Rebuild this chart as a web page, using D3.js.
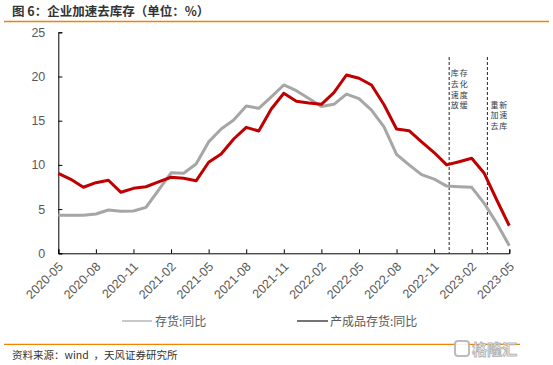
<!DOCTYPE html>
<html><head><meta charset="utf-8">
<script src="https://cdn.jsdelivr.net/npm/d3@7"></script>
<style>
html,body{margin:0;padding:0;background:#fff;}
svg{display:block;}
</style></head>
<body>
<svg id="c" width="553" height="365"></svg>
<script>
const months = ["2020-05","2020-06","2020-07","2020-08","2020-09","2020-10","2020-11","2020-12",
"2021-01","2021-02","2021-03","2021-04","2021-05","2021-06","2021-07","2021-08","2021-09","2021-10","2021-11","2021-12",
"2022-01","2022-02","2022-03","2022-04","2022-05","2022-06","2022-07","2022-08","2022-09","2022-10","2022-11","2022-12",
"2023-01","2023-02","2023-03","2023-04","2023-05"];
const inventory = [4.3,4.3,4.3,4.45,4.9,4.75,4.78,5.2,7.16,9.1,9.05,10.1,12.6,14.06,15.08,16.66,16.4,17.7,19.04,18.4,
17.5,16.6,16.85,18.0,17.5,16.2,14.3,11.2,10.0,8.9,8.4,7.6,7.53,7.46,5.65,3.4,0.86];
const finished = [9.05,8.37,7.47,7.99,8.26,6.9,7.35,7.53,8.07,8.6,8.48,8.2,10.3,11.23,12.93,14.25,13.83,16.32,18.1,17.2,
17.0,16.85,18.17,20.17,19.8,19.04,16.8,14.06,13.87,12.6,11.4,10.0,10.36,10.75,9.05,6.03,3.12];
const xTickLabels = ["2020-05","2020-08","2020-11","2021-02","2021-05","2021-08","2021-11","2022-02","2022-05","2022-08","2022-11","2023-02","2023-05"];
const yTicks = [0,5,10,15,20,25];
const seriesNames = ["存货:同比","产成品存货:同比"];
const annotations = [
  {pos: 31.2, lines: ["库存","去化","速度","放缓"], top: 0},
  {pos: 34.25, lines: ["重新","加速","去库"], top: 1}
];
const title = "图 6：企业加速去库存（单位：%）";
const source = "资料来源：wind  ，天风证券研究所";

const svg = d3.select("#c");
const x = d3.scaleLinear().domain([0, months.length-1]).range([58.3, 509.3]);
const y = d3.scaleLinear().domain([0, 25]).range([253.3, 32.3]);
const idx = m => months.indexOf(m);

// title
svg.append("text").attr("x",12).attr("y",15.5)
  .attr("font-family","'Noto Sans CJK SC', sans-serif").attr("font-weight","bold")
  .attr("font-size",12.5).attr("fill","#333").text(title);
svg.append("line").attr("x1",4).attr("x2",549).attr("y1",21.5).attr("y2",21.5)
  .attr("stroke","#F08300").attr("stroke-width",1.3);

// axes
const yAxis = d3.axisLeft(y).tickValues(yTicks).tickSize(-4).tickPadding(13).tickFormat(d3.format("d"));
const gy = svg.append("g").attr("transform",`translate(${x(0)},0)`).call(yAxis);
gy.select(".domain").attr("stroke","#000");
gy.selectAll(".tick line").attr("stroke","#000");
gy.selectAll("text").attr("font-family","'Liberation Sans', Arial, sans-serif").attr("font-size",12.5).attr("fill","#595959");

const xAxis = d3.axisBottom(x).tickValues(xTickLabels.map(idx)).tickSize(-4).tickFormat(i => months[i]);
const gx = svg.append("g").attr("transform",`translate(0,${y(0)})`).call(xAxis);
gx.select(".domain").attr("stroke","#000");
gx.selectAll(".tick line").attr("stroke","#000");
gx.selectAll("text").attr("font-family","'Liberation Sans', Arial, sans-serif").attr("font-size",12.5).attr("fill","#595959")
  .attr("text-anchor","end").attr("dy",0).attr("y",0)
  .attr("transform","translate(5,14) rotate(-45)");

// annotation dashed lines
annotations.forEach(a => {
  svg.append("line").attr("x1",x(a.pos)).attr("x2",x(a.pos)).attr("y1",57).attr("y2",y(0))
    .attr("stroke","#222").attr("stroke-width",1).attr("stroke-dasharray","3,2");
  const t = svg.append("text").attr("font-family","'Noto Sans CJK SC', sans-serif").attr("font-size",8)
    .attr("fill","#3a3a3a").attr("letter-spacing",1);
  a.lines.forEach((l,i) => {
    t.append("tspan").attr("x", x(a.pos)+ (a.top ? 3 : 1.5)).attr("y", (a.top ? 107.5 : 76) + i*10.8).text(l);
  });
});

// lines
const line = d3.line().x((d,i)=>x(i)).y(d=>y(d));
svg.append("path").datum(inventory).attr("d",line).attr("fill","none").attr("stroke","#A6A6A6").attr("stroke-width",3).attr("stroke-linejoin","round");
svg.append("path").datum(finished).attr("d",line).attr("fill","none").attr("stroke","#C00000").attr("stroke-width",3).attr("stroke-linejoin","round");

// legend
const legend = [{name: seriesNames[0], color:"#A6A6A6", x1:122, x2:152, tx:155},
                {name: seriesNames[1], color:"#1a1a1a", x1:297, x2:328, tx:330}];
legend.forEach(l => {
  svg.append("line").attr("x1",l.x1).attr("x2",l.x2).attr("y1",321).attr("y2",321).attr("stroke",l.color).attr("stroke-width",1.2);
  svg.append("text").attr("x",l.tx).attr("y",325.5).attr("font-family","'Noto Sans CJK SC', sans-serif")
    .attr("font-size",12).attr("fill","#595959").text(l.name);
});

// footer
svg.append("line").attr("x1",4).attr("x2",520).attr("y1",344.3).attr("y2",344.3).attr("stroke","#F08300").attr("stroke-width",1.3);
svg.append("text").attr("x",12).attr("y",359).attr("font-family","'Noto Sans CJK SC', sans-serif")
  .attr("font-size",10.5).attr("fill","#333").attr("xml:space","preserve").style("white-space","pre").text(source);
// watermark
const wm = svg.append("g").attr("opacity",0.9);
wm.append("rect").attr("x",455).attr("y",341).attr("width",14).attr("height",15).attr("rx",3)
  .attr("fill","#fff").attr("stroke","#b5b5b5").attr("stroke-width",2);
wm.append("text").attr("x",472).attr("y",355).attr("font-family","'Noto Sans CJK SC', sans-serif")
  .attr("font-size",15).attr("font-weight","bold").attr("fill","#fff").attr("stroke","#b0b0b0").attr("stroke-width",1).text("格隆汇");
</script>
</body></html>
